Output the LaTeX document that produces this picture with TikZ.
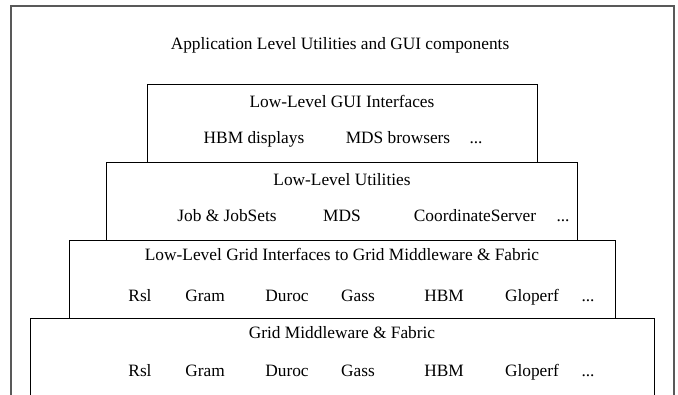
\documentclass[tikz,border=0pt]{standalone}
\usepackage{fontspec}
\setmainfont{Liberation Serif}
\usetikzlibrary{positioning}
\newcommand{\moredots}{...}
\begin{document}
\begin{tikzpicture}[
  x=0.75pt, y=-0.75pt,
  layer/.style={draw, line width=0.7pt},
  frame/.style={draw=black!65, line width=1.5pt},
  txt/.style={inner sep=0pt, text height=8.5pt, text depth=2pt, yshift=-1.5pt, font=\fontsize{13}{15}\selectfont}
]
\useasboundingbox (0,0) rectangle (678,394);
\begin{scope}
\clip (0,0) rectangle (678,394);
% outer frame and the layers, bottom ones open
\draw[frame] (11,400) |- (674,6) -- (674,400);
\draw[layer] (30,400) |- (654,318) -- (654,400);
\draw[layer] (69,240) rectangle (615,318);
\draw[layer] (106,162) rectangle (577,240);
\draw[layer] (147,84) rectangle (537,162);
\end{scope}

\node[txt] (app) at (340,43) {Application Level Utilities and GUI components};

\node[txt] (gui) at (342,101) {Low-Level GUI Interfaces};
\node[txt] (guihbm) at (254,137) {HBM displays};
\node[txt] (guimds) at (398,137) {MDS browsers};
\node[txt] (guidots) at (476,137) {\moredots};

\node[txt] (util) at (342,179) {Low-Level Utilities};
\node[txt] (utiljob) at (227,215) {Job \& JobSets};
\node[txt] (utilmds) at (342,215) {MDS};
\node[txt] (utilcoord) at (475,215) {CoordinateServer};
\node[txt] (utildots) at (563,215) {\moredots};

\node[txt] (lowgrid) at (342,254) {Low-Level Grid Interfaces to Grid Middleware \& Fabric};
\node[txt] (grid) at (342,332) {Grid Middleware \& Fabric};
\foreach \y/\pre in {295/lowgrid, 370/grid}
  \foreach \x/\n/\t in {140/rsl/Rsl, 205/gram/Gram, 287/duroc/Duroc, 358/gass/Gass, 444/hbm/HBM, 532/gloperf/Gloperf, 588/dots/\moredots}
    \node[txt] (\pre\n) at (\x,\y) {\t};
\end{tikzpicture}
\end{document}
